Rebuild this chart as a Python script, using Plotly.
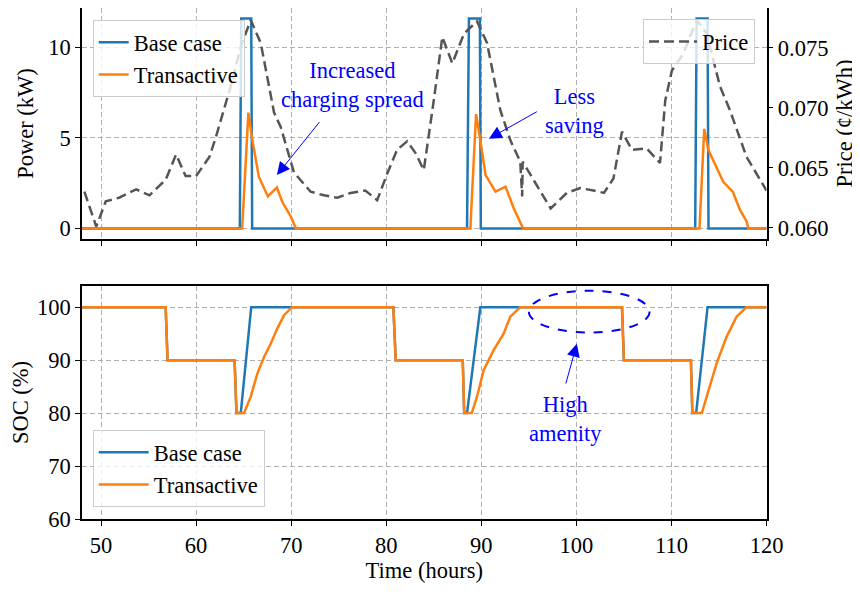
import plotly.graph_objects as go

# time axis (hours) and series
base_power_t = [48, 64.6, 64.75, 65.8, 65.9, 88.5, 88.7, 89.85, 89.95,
                112.5, 112.65, 113.8, 113.9, 120]
base_power = [0, 0, 11.6, 11.6, 0, 0, 11.6, 11.6, 0, 0, 11.6, 11.6, 0, 0]

trans_power_t = [48, 64.85, 65.5, 65.93, 66.6, 67.55, 68.5, 69.05, 69.95, 70.5,
                 88.85, 89.45, 89.9, 90.45, 91.5, 92.55, 93.4, 94.4,
                 112.95, 113.45, 113.9, 115.45, 116.45, 117.2, 117.9, 118.1, 120]
trans_power = [0, 0, 6.4, 4.86, 2.86, 1.77, 2.26, 1.49, 0.67, 0,
               0, 6.32, 4.86, 2.95, 2.04, 2.31, 1.13, 0,
               0, 5.5, 4.32, 2.58, 2.04, 1.04, 0.4, 0, 0]

price_t = [48.25, 49.5, 50.5, 51.9, 53.7, 55.1, 56.8, 57.9, 58.9, 60.0, 61.4, 62.1,
           63.65, 64.7, 65.75, 66.8, 68.2, 68.9, 70.3, 72.05, 73.45, 74.85, 76.25,
           77.8, 79.05, 80.1, 81.15, 82.2, 83.1, 83.95, 85.0, 85.9, 86.95, 88.2,
           89.55, 90.6, 92.0, 93.05, 94.1, 94.3, 94.35, 95.6, 97.3, 99.0, 100.4,
           101.8, 102.9, 103.9, 104.8, 105.85, 107.4, 108.8, 109.35, 110.05,
           111.25, 112.65, 113.7, 115.1, 116.15, 117.9, 120]
price = [0.0630, 0.0601, 0.0622, 0.0625, 0.0632, 0.0627, 0.0640, 0.0661, 0.0643,
         0.0643, 0.0659, 0.0676, 0.0718, 0.0751, 0.0773, 0.0754, 0.0696, 0.0684,
         0.0646, 0.0630, 0.0627, 0.0625, 0.0629, 0.0631, 0.0623, 0.0645, 0.0665,
         0.0672, 0.0662, 0.0648, 0.0706, 0.0759, 0.0737, 0.0762, 0.0772, 0.0754,
         0.0698, 0.0673, 0.0655, 0.0626, 0.0655, 0.0638, 0.0616, 0.0629, 0.0633,
         0.0631, 0.0629, 0.0641, 0.0680, 0.0665, 0.0666, 0.0654, 0.0706, 0.0731,
         0.0745, 0.0773, 0.0762, 0.0718, 0.0698, 0.0659, 0.0631]

base_soc_t = [48, 56.8, 57.0, 64.05, 64.25, 64.7, 65.8, 80.75, 81.0, 88.05, 88.2,
              88.5, 89.9, 104.8, 105.0, 112.05, 112.2, 112.6, 113.8, 120]
base_soc = [100, 100, 90, 90, 80, 80, 100, 100, 90, 90, 80,
            80, 100, 100, 90, 90, 80, 80, 100, 100]

trans_soc_t = [48, 56.8, 57.0, 64.05, 64.25, 65.05, 65.75, 66.45, 67.15, 67.85,
               68.55, 69.25, 70.1, 80.75, 81.0, 88.05, 88.2, 89.0, 89.55, 90.25,
               91.3, 92.35, 93.05, 94.1, 104.8, 105.0, 112.05, 112.2, 113.2, 113.9,
               114.75, 115.8, 116.85, 117.9, 120]
trans_soc = [100, 100, 90, 90, 80, 80, 83.1, 87.5, 90.6, 93.1,
             96.0, 98.5, 100, 100, 90, 90, 80, 80, 83.1, 88.1,
             91.9, 95.0, 98.2, 100, 100, 90, 90, 80, 80, 84.3,
             89.4, 94.4, 98.2, 100, 100]

x_ticks = [50, 60, 70, 80, 90, 100, 110, 120]
power_ticks = [0, 5, 10]
price_ticks = [0.060, 0.065, 0.070, 0.075]
soc_ticks = [60, 70, 80, 90, 100]

BLUE = "#1f77b4"
ORANGE = "#ff7f0e"
FONT = "Liberation Serif"
FS = 22.5
W, H = 860, 596
OFF = 8  # page body margin pushes the figure down/right


def px_x(p):
    return (p - OFF) / W


def px_y(p):
    return 1 - (p - OFF) / H


fig = go.Figure()

# top panel: power + price
fig.add_trace(go.Scatter(x=base_power_t, y=base_power, mode="lines", name="Base case",
                         line=dict(color=BLUE, width=2.5), xaxis="x2", yaxis="y2",
                         legend="legend"))
fig.add_trace(go.Scatter(x=trans_power_t, y=trans_power, mode="lines", name="Transactive",
                         line=dict(color=ORANGE, width=2.5), xaxis="x2", yaxis="y2",
                         legend="legend"))
fig.add_trace(go.Scatter(x=price_t, y=price, mode="lines", name="Price",
                         line=dict(color="#555555", width=2.5, dash="10px,5px"),
                         xaxis="x2", yaxis="y3", legend="legend2"))

# bottom panel: SOC
fig.add_trace(go.Scatter(x=base_soc_t, y=base_soc, mode="lines", name="Base case",
                         line=dict(color=BLUE, width=2.5), xaxis="x", yaxis="y",
                         legend="legend3"))
fig.add_trace(go.Scatter(x=trans_soc_t, y=trans_soc, mode="lines", name="Transactive",
                         line=dict(color=ORANGE, width=2.5), xaxis="x", yaxis="y",
                         legend="legend3"))

x_dom = [px_x(82), px_x(766.5)]
top_dom = [px_y(239), px_y(8)]
bot_dom = [px_y(519), px_y(286)]

axis_common = dict(showline=True, linecolor="black", linewidth=1.5, mirror=True,
                   ticks="outside", ticklen=5, tickwidth=1.2, tickcolor="black",
                   showgrid=True, gridcolor="#b0b0b0", griddash="5px,3px", gridwidth=1,
                   zeroline=False, automargin=False,
                   tickfont=dict(family=FONT, size=FS, color="black"))

legend_common = dict(bgcolor="rgba(255,255,255,0.8)", bordercolor="#cccccc", borderwidth=1,
                     font=dict(family=FONT, size=FS, color="black"), tracegroupgap=0)

title_font = dict(family=FONT, size=FS, color="black")

fig.update_layout(
    width=W, height=H,
    margin=dict(l=0, r=0, t=0, b=0),
    paper_bgcolor="white", plot_bgcolor="white",
    font=dict(family=FONT, size=FS, color="black"),
    xaxis=dict(axis_common, domain=x_dom, anchor="y", range=[48, 120], tickvals=x_ticks,
               title=dict(text="Time (hours)", font=title_font, standoff=5)),
    yaxis=dict(axis_common, domain=bot_dom, anchor="x", range=[60, 104], tickvals=soc_ticks,
               title=dict(text="SOC (%)", font=title_font, standoff=6)),
    xaxis2=dict(axis_common, domain=x_dom, anchor="y2", matches="x", range=[48, 120],
                tickvals=x_ticks, showticklabels=False),
    yaxis2=dict(axis_common, domain=top_dom, anchor="x2", range=[-0.58, 12.18],
                tickvals=power_ticks,
                title=dict(text="Power (kW)", font=title_font, standoff=8)),
    yaxis3=dict(axis_common, overlaying="y2", side="right", anchor="x2",
                range=[0.05906, 0.07831], tickvals=price_ticks, tickformat=".3f",
                showgrid=False, mirror=False,
                title=dict(text="Price (¢/kWh)", font=title_font, standoff=9)),
    legend=dict(legend_common, x=px_x(92.7), y=px_y(20), xanchor="left", yanchor="top",
                itemwidth=30),
    legend2=dict(legend_common, x=px_x(755), y=px_y(19.3), xanchor="right", yanchor="top",
                 itemwidth=48),
    legend3=dict(legend_common, x=px_x(92.7), y=px_y(507), xanchor="left", yanchor="bottom",
                 itemwidth=50),
    showlegend=True,
)

ann_font = dict(family=FONT, size=FS, color="blue")
arrow_style = dict(showarrow=True, arrowhead=2, arrowsize=2.6, arrowwidth=1,
                   arrowcolor="blue", standoff=0, startstandoff=0, text="")

fig.add_annotation(x=76.5, y=7.95, xref="x2", yref="y2", text="Increased<br>charging spread",
                   showarrow=False, font=ann_font, align="center")
fig.add_annotation(x=68.5, y=2.95, ax=73.1, ay=5.96, xref="x2", yref="y2",
                   axref="x2", ayref="y2", **arrow_style)

fig.add_annotation(x=99.8, y=6.5, xref="x2", yref="y2", text="Less<br>saving",
                   showarrow=False, font=ann_font, align="center")
fig.add_annotation(x=90.8, y=4.96, ax=96.0, ay=6.5, xref="x2", yref="y2",
                   axref="x2", ayref="y2", **arrow_style)

fig.add_annotation(x=98.85, y=78.9, xref="x", yref="y", text="High<br>amenity",
                   showarrow=False, font=ann_font, align="center")
fig.add_annotation(x=100.05, y=93.1, ax=98.85, ay=85.3, xref="x", yref="y",
                   axref="x", ayref="y", **arrow_style)

fig.add_shape(type="circle", xref="x", yref="y", x0=95.0, x1=107.7, y0=95.2, y1=103.1,
              line=dict(color="blue", width=2, dash="dash"))

fig.write_html("out.html")
